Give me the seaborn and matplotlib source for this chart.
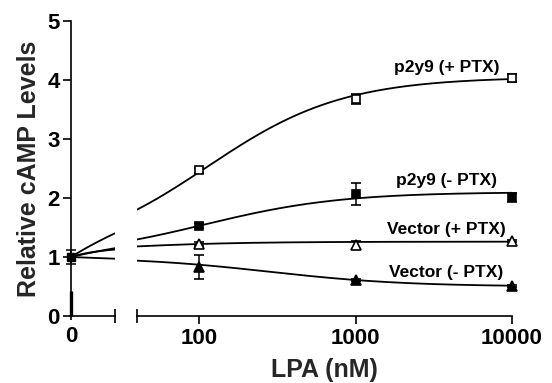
import numpy as np
import pandas as pd
import matplotlib
matplotlib.use("Agg")
import matplotlib.pyplot as plt
import matplotlib.ticker as mticker
import seaborn as sns

# ---- data ----
series_names = ["p2y9 (+ PTX)", "p2y9 (- PTX)", "Vector (+ PTX)", "Vector (- PTX)"]
lpa_doses = [100, 1000, 10000]
p2y9_plus = [2.47, 3.68, 4.03]
p2y9_plus_err = [0.04, 0.08, 0.07]
p2y9_minus = [1.53, 2.07, 2.01]
p2y9_minus_err = [0.04, 0.19, 0.08]
vector_plus = [1.22, 1.20, 1.27]
vector_plus_err = [0.03, 0.07, 0.02]
vector_minus = [0.83, 0.61, 0.51]
vector_minus_err = [0.20, 0.02, 0.02]
zero_value = 1.0
zero_err = 0.12
# fitted curve parameters (baseline at zero dose, plateau, EC50 in nM)
fit_baseline = [1.0, 1.0, 1.0, 1.0]
fit_plateau = [4.05, 2.10, 1.26, 0.50]
fit_ec50 = [112, 108, 18, 282]
marker_styles = ["s", "s", "^", "^"]
marker_filled = [False, True, False, True]
label_y = [4.22, 2.30, 1.46, 0.73]
label_x = 3800
x_ticks_right = [100, 1000, 10000]
x_tick_labels_right = ["100", "1000", "10000"]
y_ticks = [0, 1, 2, 3, 4, 5]

sns.set_theme(style="ticks")
plt.rcParams["font.family"] = ["Liberation Sans", "DejaVu Sans"]
plt.rcParams["font.weight"] = "bold"
plt.rcParams["axes.labelweight"] = "bold"

W, H = 552, 383
fig = plt.figure(figsize=(W / 100, H / 100), dpi=100)
bottom = 1 - 316 / H
height = 295 / H
axL = fig.add_axes([71 / W, bottom, 44 / W, height])
axR = fig.add_axes([137 / W, bottom, 375 / W, height])

left_end = 17.0
right_start = 40.0


def hill(x, b, p, ec):
    x = np.asarray(x, dtype=float)
    return b + (p - b) * x / (x + ec)


rows_L, rows_R = [], []
xl = np.linspace(0, left_end, 60)
xr = np.logspace(np.log10(right_start), np.log10(10000), 200)
for name, b, p, ec in zip(series_names, fit_baseline, fit_plateau, fit_ec50):
    for xv, yv in zip(xl, hill(xl, b, p, ec)):
        rows_L.append((name, xv, yv))
    for xv, yv in zip(xr, hill(xr, b, p, ec)):
        rows_R.append((name, xv, yv))
dfL = pd.DataFrame(rows_L, columns=["series", "x", "y"])
dfR = pd.DataFrame(rows_R, columns=["series", "x", "y"])
pal = {n: "black" for n in series_names}

sns.lineplot(data=dfL, x="x", y="y", hue="series", palette=pal, legend=False,
             estimator=None, sort=False, lw=1.3, ax=axL)
sns.lineplot(data=dfR, x="x", y="y", hue="series", palette=pal, legend=False,
             estimator=None, sort=False, lw=1.3, ax=axR)

vals = [p2y9_plus, p2y9_minus, vector_plus, vector_minus]
errs = [p2y9_plus_err, p2y9_minus_err, vector_plus_err, vector_minus_err]
for v, e, m, f in zip(vals, errs, marker_styles, marker_filled):
    axR.errorbar(lpa_doses, v, yerr=e, fmt=m, ms=5.8 if m == "s" else 6.5,
                 mfc="black" if f else "white", mec="black", mew=1.2,
                 ecolor="black", elinewidth=1.1, capsize=3.7, capthick=1.1,
                 clip_on=False, zorder=5)

axL.errorbar([0], [zero_value], yerr=[zero_err], fmt="s", ms=5.8, mfc="black",
             mec="black", ecolor="black", elinewidth=1.1, capsize=3.7,
             capthick=1.1, clip_on=False, zorder=5)
axL.vlines(0, 0, 0.43, colors="black", lw=2.4, zorder=6, clip_on=False)

for ax in (axL, axR):
    ax.set_ylim(0, 5)
    ax.set_xlabel("")
    ax.set_ylabel("")
    ax.spines["top"].set_visible(False)
    ax.spines["right"].set_visible(False)
    for s in ax.spines.values():
        s.set_linewidth(1.2)
        s.set_color("black")
    ax.set_facecolor("none")

axL.set_xlim(0, left_end)
axL.set_xticks([0])
axL.set_xticklabels(["0"])
axL.xaxis.set_minor_locator(mticker.FixedLocator([left_end]))
axL.tick_params(axis="x", which="major", direction="out", length=3, width=1.2,
                labelsize=16, pad=4, colors="black")
axL.tick_params(axis="x", which="minor", direction="inout", length=10, width=1.2,
                colors="black")
axL.set_yticks(y_ticks)
axL.tick_params(axis="y", direction="out", length=6, width=1.2, labelsize=16,
                pad=2, colors="black")
axL.set_ylabel("Relative cAMP Levels", fontsize=18, fontweight="bold", labelpad=5)

axR.set_xscale("log")
axR.set_xlim(right_start, 10000)
axR.spines["left"].set_visible(False)
axR.set_yticks([])
axR.xaxis.set_major_locator(mticker.FixedLocator(x_ticks_right))
axR.xaxis.set_major_formatter(mticker.FixedFormatter(x_tick_labels_right))
axR.xaxis.set_minor_locator(mticker.FixedLocator([right_start]))
axR.xaxis.set_minor_formatter(mticker.NullFormatter())
axR.tick_params(axis="x", which="major", direction="out", length=6, width=1.2,
                labelsize=16, pad=3, colors="black")
axR.tick_params(axis="x", which="minor", direction="inout", length=10, width=1.2,
                colors="black")
axR.set_xlabel("LPA (nM)", fontsize=18, fontweight="bold", labelpad=6)

for name, ly in zip(series_names, label_y):
    axR.text(label_x, ly, name, ha="center", va="center", fontsize=12.5,
             fontweight="bold", color="black")

for lab in axL.get_yticklabels() + axL.get_xticklabels() + axR.get_xticklabels():
    lab.set_fontweight("bold")

fig.savefig("out.png", dpi=100)
